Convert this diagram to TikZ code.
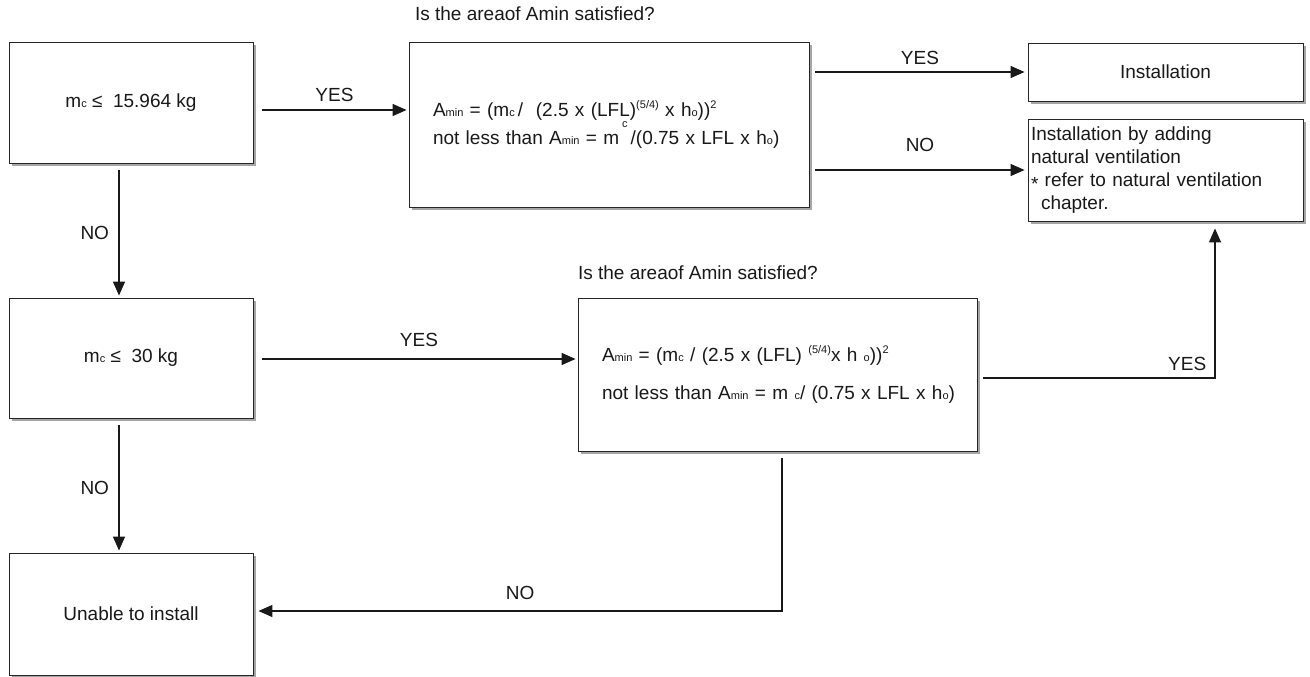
\documentclass[tikz,border=0pt]{standalone}
\usepackage{fontspec}
\setmainfont{Liberation Sans}
\usetikzlibrary{arrows.meta,calc}

% small pieces of the formulas
\newcommand{\lo}[1]{{\fontsize{11}{11}\selectfont #1}}
\newcommand{\hi}[1]{\raisebox{0.45em}{\fontsize{11}{11}\selectfont #1}}

\begin{document}
\begin{tikzpicture}[x=1pt,y=-1pt,
  font=\fontsize{19}{23}\selectfont,
  box/.style={draw=black!85, line width=0.9pt, fill=white, text=black!90,
    preaction={fill=black!35, transform canvas={xshift=3pt, yshift=-3pt}}},
  formbox/.style={box, align=left, inner xsep=24pt, text width=#1},
  flow/.style={-{Triangle[length=14pt,width=12pt]}, line width=1.3pt, draw=black!90},
  tag/.style={text=black!90}]

  \useasboundingbox (0,0) rectangle (1310,677);

  % Mass limit checks on the left
  \node[box, minimum width=244, minimum height=121] (lim1) at (131,102.5) {m\lo{c} ≤\ \ 15.964 kg};
  \node[box, minimum width=244, minimum height=120] (lim2) at (131,358) {m\lo{c} ≤\ \ 30 kg};
  \node[box, minimum width=244, minimum height=122] (fail) at (131,614) {Unable to install};

  % Area checks
  \node[formbox=352, minimum height=165] (form1) at (609,124.5)
    {\mbox{A\lo{min} = (m\lo{c}\,/ \ (2.5 x (LFL)\hi{(5/4)} x h\lo{o}))\hi{2}}\\
     \mbox{not less than A\lo{min} = m\hspace{3pt}\raisebox{0.9em}{\lo{c}}\hspace{3pt}/(0.75 x LFL x h\lo{o})}};
  \node[formbox=351, minimum height=153] (form2) at (777.5,374.5)
    {\mbox{A\lo{min} = (m\lo{c} / (2.5 x (LFL) \hi{(5/4)}x h \lo{o}))\hi{2}}\\[15pt]
     \mbox{not less than A\lo{min} = m \lo{c}/ (0.75 x LFL x h\lo{o})}};
  \node[tag, anchor=base west] (ask1) at ($(form1.north west)+(3,-21.5)$) {Is the areaof Amin satisfied?};
  \node[tag, anchor=base west] (ask2) at ($(form2.north west)+(-3,-18.5)$) {Is the areaof Amin satisfied?};

  % Results
  \node[box, minimum width=275, minimum height=58] (inst) at (1165.5,72) {Installation};
  \node[box, minimum height=102, align=left, text width=269, inner xsep=3pt] (vent) at (1165.5,170)
    {Installation by adding\\
     natural ventilation\\
     \raisebox{-0.2em}{*} refer to natural ventilation\\
     \hspace*{10pt}chapter.};

  % Arrows
  \draw[flow] ($(lim1.east)+(9,7.5)$) -- node[tag, above=4pt] {YES} ($(form1.west |- lim1.east)+(-2,7.5)$);
  \draw[flow] ($(form1.east |- inst.west)+(6,0)$) -- node[tag, above=3pt] {YES} ($(inst.west)+(-3,0)$);
  \draw[flow] ($(form1.east |- vent.west)+(6,0)$) -- node[tag, above=14pt] {NO} ($(vent.west)+(-3,0)$);
  \draw[flow] ($(lim1.south)+(-12,7)$) -- node[tag, left=6pt] {NO} ($(lim2.north)+(-12,-2)$);
  \draw[flow] ($(lim2.east)+(9,1)$) -- node[tag, above=8pt] {YES} ($(form2.west |- lim2.east)+(-2,1)$);
  \draw[flow] ($(form2.east)+(6,3.5)$) -| node[tag, above=3pt, pos=0.44] {YES} ($(vent.south)+(49.5,7)$);
  \draw[flow] ($(lim2.south)+(-12,7)$) -- node[tag, left=6pt] {NO} ($(fail.north)+(-12,-2)$);
  \draw[flow] ($(form2.south)+(4.5,7)$) |- node[tag, above=7pt, pos=0.75] {NO} ($(fail.east)+(5,-3)$);
\end{tikzpicture}
\end{document}
